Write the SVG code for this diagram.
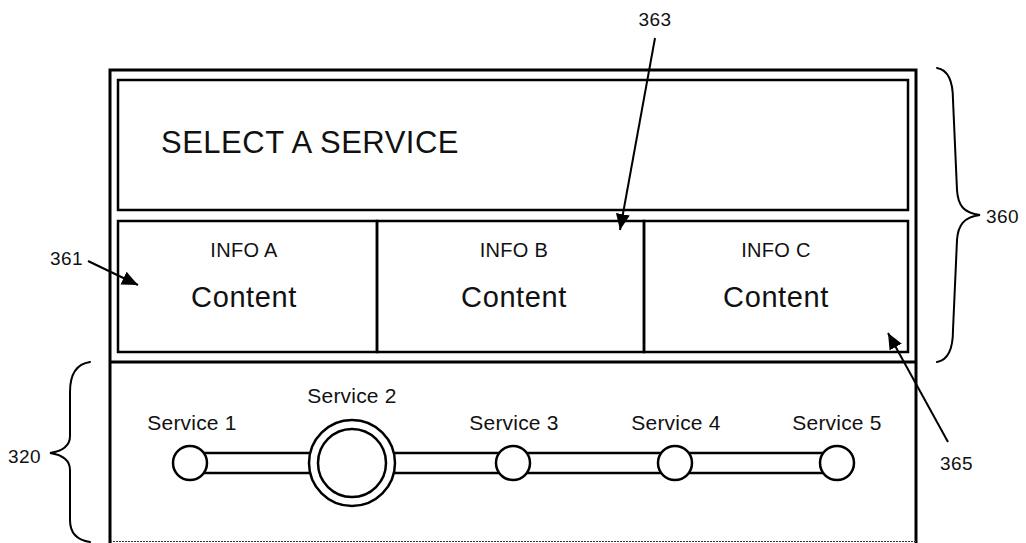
<svg xmlns="http://www.w3.org/2000/svg" width="1026" height="543" viewBox="0 0 1026 543">
  <defs>
    <style>
      .frame { fill: none; stroke: #000; stroke-width: 3; }
      .panel { fill: none; stroke: #000; stroke-width: 2.5; }
      .lead { fill: none; stroke: #000; stroke-width: 2; }
      .brace { fill: none; stroke: #000; stroke-width: 2; stroke-linecap: round; }
      .knob { fill: #fff; stroke: #000; stroke-width: 2.5; }
      .t { font-family: "Liberation Sans", Arial, sans-serif; fill: #111; }
      .ref { font-size: 19px; letter-spacing: 0.4px; }
      .title { font-size: 31px; letter-spacing: 0.5px; }
      .info { font-size: 20px; letter-spacing: 0.3px; }
      .content { font-size: 29px; letter-spacing: 0.6px; }
      .svc { font-size: 21px; letter-spacing: 0.2px; }
    </style>
    <marker id="arrow" markerUnits="userSpaceOnUse" markerWidth="18" markerHeight="16" refX="16" refY="7" orient="auto">
      <path d="M0,0 L16,7 L0,14 Z" fill="#000"/>
    </marker>
  </defs>

  <!-- outer device frame -->
  <g id="frame">
    <path class="frame" d="M110,543 L110,70 L916,70 L916,543"/>
    <line class="frame" x1="110" y1="362" x2="916" y2="362"/>
    <line x1="110" y1="541.5" x2="916" y2="541.5" stroke="#333" stroke-width="1" stroke-dasharray="2 1"/>
  </g>

  <!-- header panel -->
  <g id="header">
    <rect class="panel" x="118" y="80" width="790" height="130"/>
    <text class="t title" x="161" y="153">SELECT A SERVICE</text>
  </g>

  <!-- information cells -->
  <g id="info-a">
    <rect class="panel" x="118" y="221" width="259" height="131"/>
    <text class="t info" x="244" y="257" text-anchor="middle">INFO A</text>
    <text class="t content" x="244" y="307" text-anchor="middle">Content</text>
  </g>
  <g id="info-b">
    <rect class="panel" x="377" y="221" width="267" height="131"/>
    <text class="t info" x="514" y="257" text-anchor="middle">INFO B</text>
    <text class="t content" x="514" y="307" text-anchor="middle">Content</text>
  </g>
  <g id="info-c">
    <rect class="panel" x="644" y="221" width="264" height="131"/>
    <text class="t info" x="776" y="257" text-anchor="middle">INFO C</text>
    <text class="t content" x="776" y="307" text-anchor="middle">Content</text>
  </g>

  <!-- service slider -->
  <g id="slider-track">
    <rect class="panel" x="190" y="453" width="647" height="20" fill="#fff"/>
  </g>
  <g id="service-1">
    <circle class="knob" cx="190" cy="463" r="17"/>
    <text class="t svc" x="192" y="430" text-anchor="middle">Service 1</text>
  </g>
  <g id="service-2">
    <circle class="knob" cx="352" cy="463" r="43"/>
    <circle class="knob" cx="352" cy="463" r="34"/>
    <text class="t svc" x="352" y="403" text-anchor="middle">Service 2</text>
  </g>
  <g id="service-3">
    <circle class="knob" cx="513" cy="463" r="17"/>
    <text class="t svc" x="514" y="430" text-anchor="middle">Service 3</text>
  </g>
  <g id="service-4">
    <circle class="knob" cx="675" cy="463" r="17"/>
    <text class="t svc" x="676" y="430" text-anchor="middle">Service 4</text>
  </g>
  <g id="service-5">
    <circle class="knob" cx="837" cy="463" r="17"/>
    <text class="t svc" x="837" y="430" text-anchor="middle">Service 5</text>
  </g>

  <!-- reference numerals -->
  <g id="ref-labels">
    <text class="t ref" x="655" y="26" text-anchor="middle">363</text>
    <text class="t ref" x="986" y="223">360</text>
    <text class="t ref" x="50" y="265">361</text>
    <text class="t ref" x="940" y="470">365</text>
    <text class="t ref" x="8" y="463">320</text>
  </g>

  <!-- leader lines and braces -->
  <g id="connectors">
    <line class="lead" x1="655" y1="38" x2="620" y2="230" marker-end="url(#arrow)"/>
    <line class="lead" x1="88" y1="261" x2="138" y2="285" marker-end="url(#arrow)"/>
    <line class="lead" x1="948" y1="442" x2="888" y2="333" marker-end="url(#arrow)"/>
    <path class="brace" d="M937,68 C949,70 953,82 953,100 L957,190 C958,206 964,213 980,215 C964,217 958,225 957,240 L953,330 C953,346 949,360 937,362"/>
    <path class="brace" d="M90,362 C76,364 70,375 70,392 L70,436 C70,446 63,451 50,453 C63,455 70,460 70,470 L70,520 C70,532 76,540 90,542"/>
  </g>
</svg>
